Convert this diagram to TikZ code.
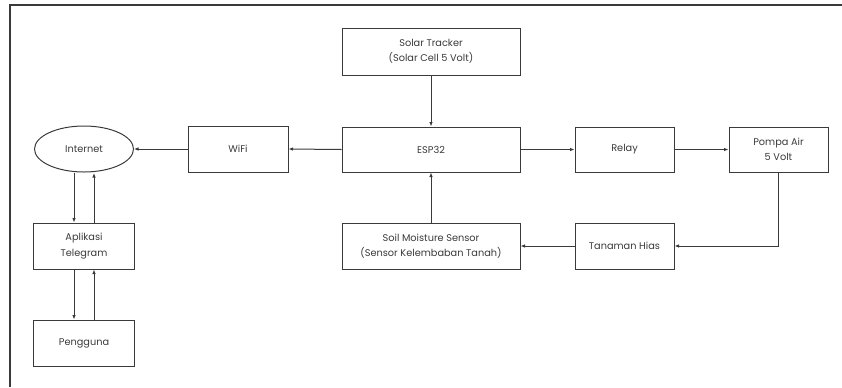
\documentclass[tikz,border=0pt]{standalone}
\usepackage{fontspec}
\setmainfont{Poppins}
\usetikzlibrary{arrows.meta,shapes.geometric}
\definecolor{ln}{HTML}{3A3A3A}
\definecolor{tx}{HTML}{3A3A3A}
\tikzset{
  box/.style={draw=ln, line width=1bp, rectangle, align=center, text=tx, font=\fontsize{9.8}{15.5}\selectfont, inner sep=0pt},
  oval/.style={draw=ln, line width=1bp, ellipse, align=center, text=tx, font=\fontsize{9.8}{15.5}\selectfont, inner sep=0pt},
  conn/.style={draw=ln, line width=1bp, -{Latex[length=4.5bp,width=3.5bp]}}
}
\begin{document}
\begin{tikzpicture}[x=1bp,y=-1bp]
\useasboundingbox (0,0) rectangle (842,387);
\draw[ln, line width=1.2bp] (10,387) -- (10,5) -- (842,5);
\node[box, minimum width=178bp, minimum height=47bp] (solar) at (431,51.5) {Solar Tracker\\(Solar Cell 5 Volt)};
\node[box, minimum width=178bp, minimum height=45bp] (esp) at (431,149.5) {ESP32};
\node[box, minimum width=100bp, minimum height=46bp] (wifi) at (238,149) {WiFi};
\node[oval, minimum width=99bp, minimum height=46bp] (internet) at (84,149) {Internet};
\node[box, minimum width=99bp, minimum height=45bp] (relay) at (624.5,149.5) {Relay};
\node[box, minimum width=99bp, minimum height=45bp] (pompa) at (778.5,149.5) {Pompa Air\\5 Volt};
\node[box, minimum width=99bp, minimum height=46bp] (tanaman) at (624.5,246) {Tanaman Hias};
\node[box, minimum width=178bp, minimum height=46bp] (soil) at (431,246) {Soil Moisture Sensor\\(Sensor Kelembaban Tanah)};
\node[box, minimum width=100bp, minimum height=46bp] (aplikasi) at (84,246) {Aplikasi\\Telegram};
\node[box, minimum width=100bp, minimum height=46bp] (pengguna) at (84,343) {Pengguna};

\draw[conn] (solar.south) -- (esp.north);
\draw[conn] (esp.west) -- (wifi.east);
\draw[conn] (wifi.west) -- (internet.east);
\draw[conn] (esp.east) -- (relay.west);
\draw[conn] (relay.east) -- (pompa.west);
\draw[conn] (pompa.south) |- (tanaman.east);
\draw[conn] (tanaman.west) -- (soil.east);
\draw[conn] (soil.north) -- (esp.south);
\draw[conn] ([xshift=-10bp,yshift=-0.5bp]internet.south) -- ([xshift=-10bp]aplikasi.north);
\draw[conn] ([xshift=10bp]aplikasi.north) -- ([xshift=10bp,yshift=-0.5bp]internet.south);
\draw[conn] ([xshift=-10bp]aplikasi.south) -- ([xshift=-10bp]pengguna.north);
\draw[conn] ([xshift=10bp]pengguna.north) -- ([xshift=10bp]aplikasi.south);
\end{tikzpicture}
\end{document}
